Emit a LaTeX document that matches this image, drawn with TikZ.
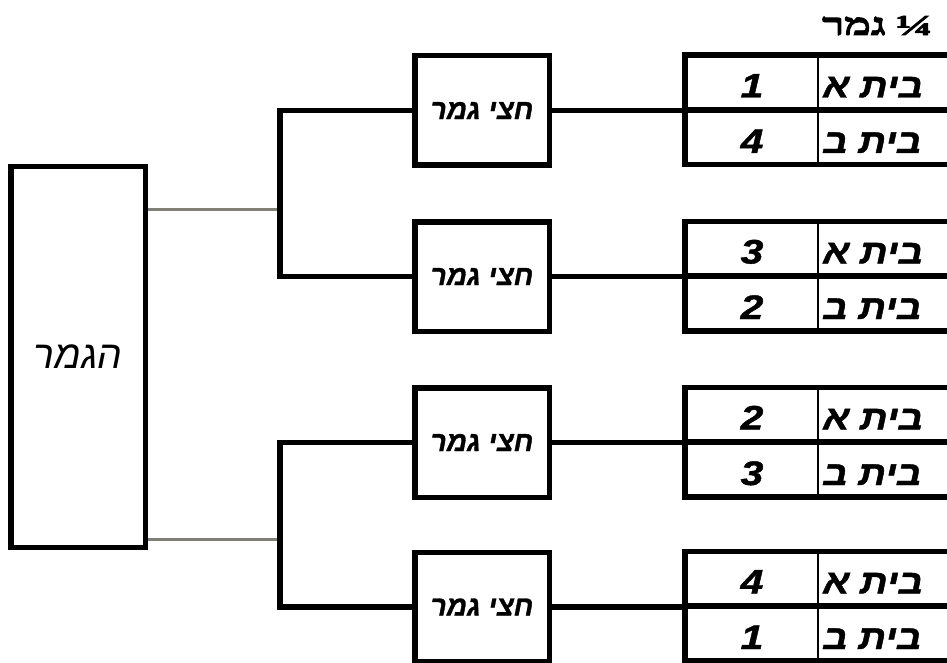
\documentclass[tikz,border=0pt]{standalone}
\usepackage{fontspec}
\usepackage{graphicx}
\setmainfont{Liberation Sans}
\newfontfamily\hebsans[Script=Hebrew]{Liberation Sans}
\newfontfamily\hebheavy[Script=Hebrew, FakeBold=1.2]{Liberation Sans}
\newfontfamily\numheavy[FakeBold=1.2]{Liberation Sans}
\newfontfamily\hebserifb[Script=Hebrew, FakeBold=2.5]{Liberation Serif}
\TeXXeTstate=1
\begin{document}
\begin{tikzpicture}[x=1pt,y=-1pt,
  blk/.style={draw, line width=5.5pt, inner sep=0pt},
  semibox/.style={blk, minimum width=134.5pt, minimum height=109.5pt,
     font=\hebheavy\bfseries\itshape\fontsize{28}{28}\selectfont},
  teambox/.style={blk, minimum width=280pt, minimum height=109.5pt},
  conn/.style={line width=5.5pt},
  grayconn/.style={line width=3pt, draw={rgb,255:red,128;green,128;blue,118}},
  teamtxt/.style={anchor=base west, inner sep=0pt, font=\hebheavy\bfseries\itshape\fontsize{34}{34}\selectfont},
  numtxt/.style={anchor=base, inner sep=0pt, font=\numheavy\bfseries\itshape\fontsize{34}{34}\selectfont}
]
\useasboundingbox (0,0) rectangle (947,663);
\fill[white] (0,0) rectangle (947,663);

% final
\node[blk, minimum width=134.5pt, minimum height=380.5pt,
  font=\hebsans\itshape\fontsize{39}{39}\selectfont] (final) at (78,357) {\beginR הגמר\endR};

% semifinals
\foreach \i/\c in {1/110.5, 2/276.5, 3/442.5, 4/607}{
  \node[semibox] (s\i) at (482,\c) {\beginR חצי גמר\endR};
}

% junctions
\coordinate (j1) at (280,209);
\coordinate (j2) at (280,539);

% gray links
\draw[grayconn] (final.east |- j1) -- (j1);
\draw[grayconn] (final.east |- j2) -- (j2);

% brackets
\draw[conn] (s1.west) -| (j1) |- (s2.west);
\draw[conn] (s3.west) -| (j2) |- (s4.west);

% quarter-final team boxes
\foreach \i/\c/\na/\nb in {1/110/1/4, 2/276/3/2, 3/442/2/3, 4/606/4/1}{
  \node[teambox] (t\i) at (824.75,\c) {};
  \draw[conn] (t\i.west |- 0,\c) -- (t\i.east |- 0,\c);
  \draw[line width=2.5pt] (818,\c-52) -- (818,\c+52);
  \node[teamtxt] (t\i a) at (823,\c-12.5) {\scalebox{1.13}[1]{\beginR בית א\endR}};
  \node[teamtxt] (t\i b) at (823,\c+43) {\scalebox{1.13}[1]{\beginR בית ב\endR}};
  \node[numtxt] (t\i na) at (752,\c-12.5) {\scalebox{1.2}[1]{\na}};
  \node[numtxt] (t\i nb) at (752,\c+43) {\scalebox{1.2}[1]{\nb}};
  \draw[conn] (s\i.east) -- (s\i.east -| t\i.west);
}

% label
\node[anchor=base west, inner sep=0pt, font=\hebserifb\bfseries\fontsize{31}{31}\selectfont]
  (q) at (822,35) {\scalebox{1.45}[1]{\beginR גמר\endR}};
\node[anchor=base east, inner sep=0pt, font=\hebserifb\bfseries\fontsize{29}{29}\selectfont]
  (qf) at (933,35) {\scalebox{1.7}[1]{¼}};
\end{tikzpicture}
\end{document}
